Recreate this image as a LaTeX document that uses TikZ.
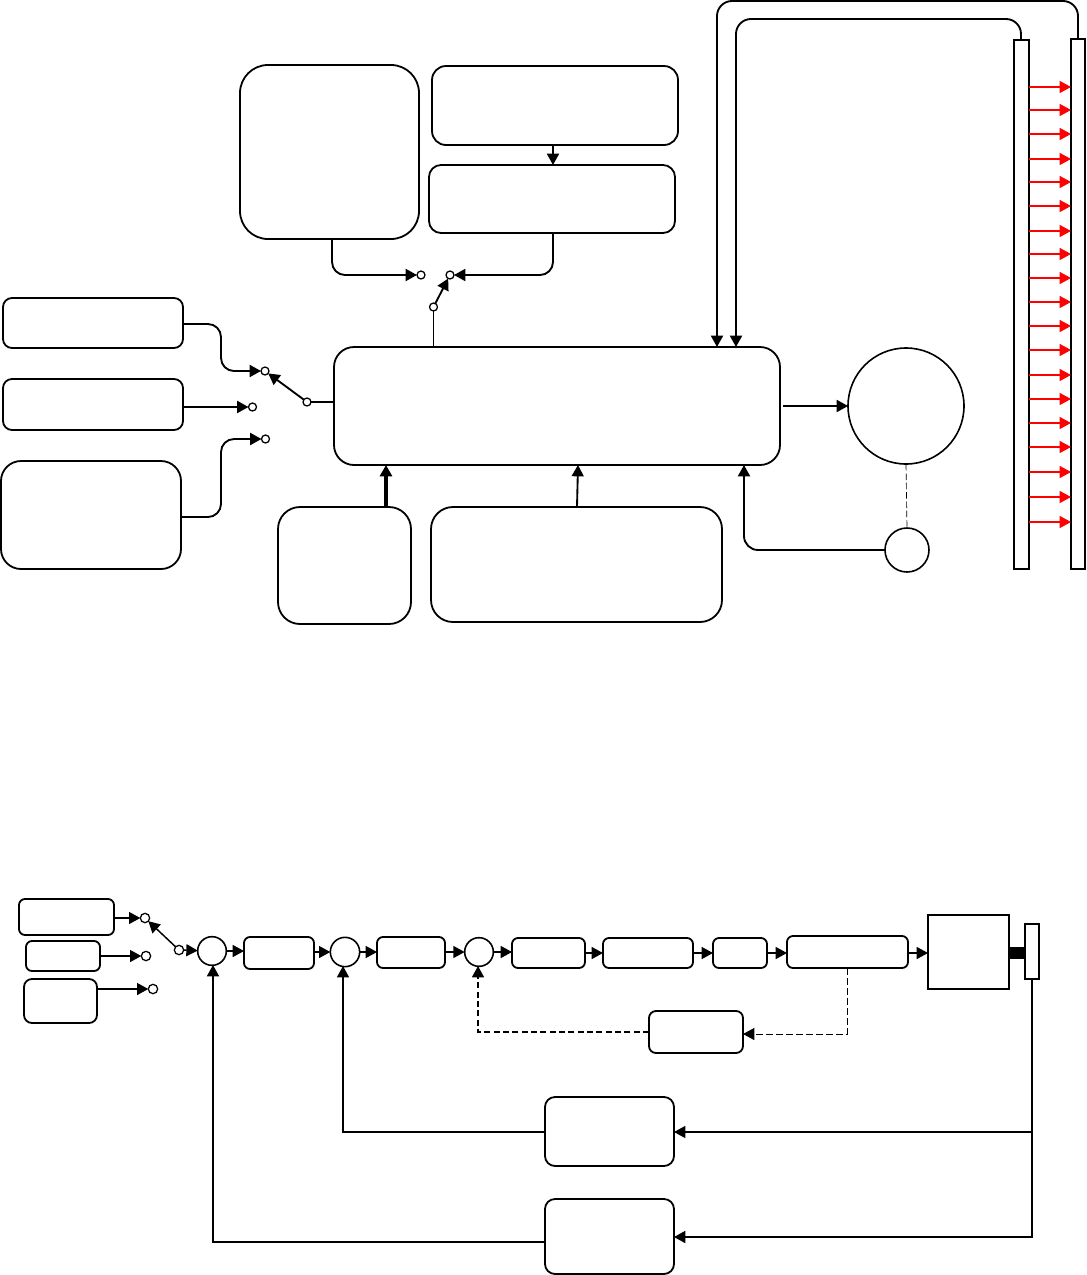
\documentclass[tikz,border=0pt]{standalone}
\usetikzlibrary{arrows.meta,calc}
\tikzset{
  x=0.75pt,y=-0.75pt,
  bx/.style={draw=black,line width=1.35pt,fill=white,inner sep=0pt,outer sep=0pt},
  thinbx/.style={draw=black,line width=0.85pt,fill=white,inner sep=0pt,outer sep=0pt},
  term/.style={circle,draw=black,line width=0.95pt,fill=white,minimum size=6pt,inner sep=0pt,outer sep=0pt},
  conn/.style={draw=black,line width=1.4pt,-{Triangle[length=8.5pt,width=9pt]}},
  conns/.style={draw=black,line width=1.1pt,-{Triangle[length=8.5pt,width=9pt]}},
  plain/.style={draw=black,line width=1.4pt},
  dconn/.style={draw=black,line width=1pt,dash pattern=on 4.5pt off 2.5pt,-{Triangle[length=8.5pt,width=9pt]}},
  redarrow/.style={draw=red,line width=0.9pt,-{Triangle[length=8.5pt,width=9pt]}},
  junction/.style={circle,draw=black,line width=1.2pt,fill=white,inner sep=0pt,outer sep=0pt}
}
\newcommand{\rb}[7][bx]{%
  \pgfmathsetmacro{\cxx}{(#3+#5)/2}\pgfmathsetmacro{\cyy}{(#4+#6)/2}%
  \pgfmathsetmacro{\www}{(#5-#3)*0.75}\pgfmathsetmacro{\hhh}{(#6-#4)*0.75}%
  \pgfmathsetmacro{\rrr}{#7*0.75}%
  \node[#1,minimum width=\www pt,minimum height=\hhh pt,rounded corners=\rrr pt] (#2) at (\cxx,\cyy) {};}
\begin{document}
\begin{tikzpicture}
\useasboundingbox (0,0) rectangle (1086,1275);
% ---------- upper diagram ----------
\rb{A}{240}{65}{419}{239}{28}
\rb{B}{432}{66}{678}{145}{14}
\rb{C}{429}{165}{675}{233}{12}
\rb{D}{3}{298}{183}{348}{9}
\rb{E}{3}{379}{183}{430}{9}
\rb{F}{1}{461}{181}{569}{20}
\rb{M}{334}{347}{780}{465}{20}
\rb{G}{278}{507}{411}{624}{22}
\rb{H}{431}{507}{722}{622}{22}
\node[junction,minimum size=87pt] (big) at (906,406) {};
\node[junction,minimum size=33pt] (small) at (907,550) {};
\rb{BL}{1014}{40}{1029}{569}{0}
\rb{BR}{1071}{39}{1085}{569}{0}
\node[term] (s1) at (421,275) {};
\node[term] (s2) at (450,275) {};
\node[term] (s3) at (433.5,307) {};
\node[term] (t1) at (265,371) {};
\node[term] (t2) at (252.5,407) {};
\node[term] (t3) at (265.5,439) {};
\node[term] (t4) at (307,402) {};
\coordinate (Aout) at (332,239);
\coordinate (Bout) at (553,145);
\coordinate (Cin) at (553,165);
\coordinate (Cout) at (553,233);
\coordinate (Mtop) at (433.5,347);
\coordinate (Dout) at (183,324);
\coordinate (Eout) at (183,407);
\coordinate (Fout) at (181,517);
\coordinate (Mleft) at (334,402);
\coordinate (Mright) at (783,406);
\coordinate (Gout) at (386,507);
\coordinate (Min1) at (386,465);
\coordinate (Hout) at (577,507);
\coordinate (Min2) at (578,465);
\coordinate (Min3) at (744,465);
\coordinate (BRtop) at (1078,39);
\coordinate (BLtop) at (1021,40);
\coordinate (Mt1) at (717,347);
\coordinate (Mt2) at (736,347);
\path[conn,rounded corners=9.75pt] (Aout) -- (Aout |- s1) -- (s1);
\path[conn,rounded corners=9.75pt] (Cout) -- (Cout |- s2) -- (s2);
\path[conn] (Bout) -- (Cin);
\path[conn] (s3) -- (s2);
\path[plain] (Mtop) -- (s3);
\path[conn,rounded corners=9.75pt] (Dout) -- (221,324) -- (221,371) -- (t1);
\path[conn] (Eout) -- (t2);
\path[conn,rounded corners=9.75pt] (Fout) -- (221,517) -- (221,439) -- (t3);
\path[conn] (t4) -- (t1);
\path[plain] (Mleft) -- (t4);
\path[conn] (Mright) -- (big);
\path[draw=black,line width=2.6pt,-{Triangle[length=8.5pt,width=9pt]}] (Gout) -- (Min1);
\path[conn] (Hout) -- (Min2);
\path[conn,rounded corners=10.5pt] (small.west) -- (small.west -| Min3) -- (Min3);
\path[draw=black,line width=0.5pt,dash pattern=on 5pt off 2pt] (big.south) -- (small.north);
\path[conn,rounded corners=11.25pt] (BRtop) -- (BRtop |- 0,1) -- (717,1) -- (Mt1);
\path[conn,rounded corners=11.25pt] (BLtop) -- (BLtop |- 0,19) -- (736,19) -- (Mt2);
\foreach \yy [count=\i] in {87,110,134,159,182,206,231,254,278,302,326,350,375,399,423,447,472,497,522}{
  \coordinate (ra\i) at (BL.east |- 0,\yy);
  \coordinate (rb\i) at (BR.west |- 0,\yy);
  \path[redarrow] (ra\i) -- (rb\i);
}
% ---------- lower diagram ----------
\rb{bA}{19}{899}{114}{935}{6}
\rb{bB}{26}{941}{100}{971}{6}
\rb{bC}{24}{979}{97}{1023}{8}
\node[term,minimum size=7pt] (u1) at (145,918) {};
\node[term,minimum size=7pt] (u2) at (146,956) {};
\node[term,minimum size=7pt] (u3) at (153,989) {};
\node[term,minimum size=7pt] (u4) at (179,950) {};
\node[junction,minimum size=21.5pt] (S1) at (212,951) {};
\node[junction,minimum size=22pt] (S2) at (345,952) {};
\node[junction,minimum size=21.5pt] (S3) at (479,952) {};
\rb{P1}{244}{937}{314}{969}{6}
\rb{P2}{377}{937}{445}{968}{6}
\rb{P3}{512}{938}{585}{968}{6}
\rb{P4}{603}{938}{693}{968}{6}
\rb{P5}{713}{938}{767}{968}{6}
\rb{P6}{787}{936}{908}{968}{6}
\rb[thinbx]{Mot}{928}{915}{1009}{989}{0}
\rb{Bar}{1025}{924}{1039}{979}{0}
\rb{Q}{649}{1011}{743}{1053}{7}
\rb{R1}{545}{1097}{674}{1166}{10}
\rb{R2}{545}{1199}{674}{1274}{10}
\rb[draw=black,fill=black,line width=0pt]{Cpl}{1009}{947}{1025}{958}{0}
\path[conns] (bA.east |- u1) -- (u1);
\path[conns] (bB.east |- u2) -- (u2);
\path[conns] (bC.east |- u3) -- (u3);
\path[conns] (u4) -- (u1);
\path[conns] (u4) -- (S1);
\path[conns] (S1) -- (P1.west |- S1);
\path[conns] (P1.east |- S2) -- (S2);
\path[conns] (S2) -- (P2.west |- S2);
\path[conns] (P2.east |- S3) -- (S3);
\path[conns] (S3) -- (P3.west |- S3);
\path[conns] (P3.east) -- (P4.west);
\path[conns] (P4.east) -- (P5.west);
\path[conns] (P5.east) -- (P6.west |- P5.east);
\path[conns] (P6.east |- 0,953) -- (Mot.west |- 0,953);
\coordinate (P6d) at (847,968);
\coordinate (Qr) at (743,1034);
\coordinate (Ql) at (649,1032);
\coordinate (S3d) at (478,966);
\coordinate (Bd) at (1032,979);
\coordinate (Bj) at (1032,1132);
\coordinate (R2e) at (674,1237);
\coordinate (R1w) at (545,1132);
\coordinate (S2d) at (343,966);
\coordinate (R2w) at (545,1242);
\coordinate (S1d) at (213,965);
\path[draw=black,line width=0.7pt,dash pattern=on 5pt off 2.5pt,-{Triangle[length=8.5pt,width=9pt]}] (P6d) -- (P6d |- Qr) -- (Qr);
\path[dconn] (Ql) -- (S3d |- Ql) -- (S3d);
\path[conns,line width=1.4pt] (Bd) -- (Bd |- R2e) -- (R2e);
\path[conns] (Bj) -- (R1.east |- Bj);
\path[conns] (R1w) -- (S2d |- R1w) -- (S2d);
\path[conns,line width=1.3pt] (R2w) -- (S1d |- R2w) -- (S1d);
\end{tikzpicture}
\end{document}
